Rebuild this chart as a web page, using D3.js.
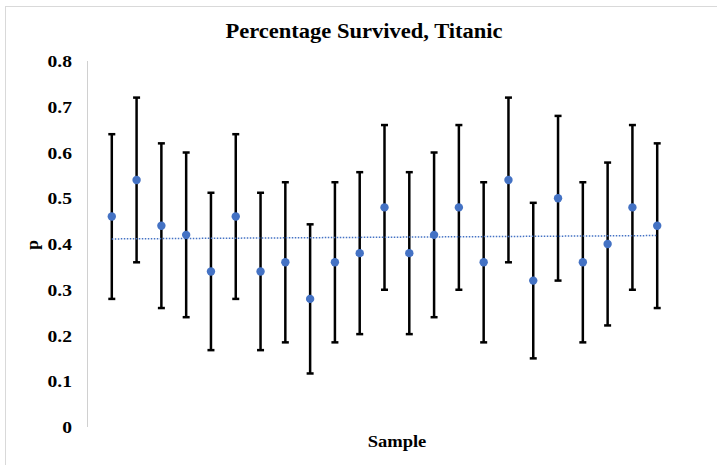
<!DOCTYPE html>
<html><head><meta charset="utf-8">
<script src="https://cdn.jsdelivr.net/npm/d3@7"></script>
<style>body{margin:0;background:#fff}svg{display:block}text{font-family:"Liberation Serif","Times New Roman",serif;font-weight:bold;fill:#000}</style>
</head><body>
<script>
const samples = d3.range(1, 24);
const proportions = [0.46,0.54,0.44,0.42,0.34,0.46,0.34,0.36,0.28,0.36,0.38,0.48,0.38,0.42,0.48,0.36,0.54,0.32,0.50,0.36,0.40,0.48,0.44];
const margins = [0.18,0.18,0.18,0.18,0.172,0.18,0.172,0.175,0.163,0.175,0.177,0.18,0.177,0.18,0.18,0.175,0.18,0.17,0.18,0.175,0.178,0.18,0.18];
const yTicks = [0,0.1,0.2,0.3,0.4,0.5,0.6,0.7,0.8];

const W = 717, H = 465;
const svg = d3.select("body").append("svg").attr("width", W).attr("height", H);
svg.append("rect").attr("x",5.5).attr("y",6.5).attr("width",740).attr("height",480)
  .attr("fill","none").attr("stroke","#d9d9d9");

const x = d3.scaleLinear().domain([0,24]).range([87,682]);
const y = d3.scaleLinear().domain([0,0.8]).range([427,61]);

// y axis
svg.append("line").attr("x1",x(0)+0.5).attr("x2",x(0)+0.5).attr("y1",y(0.8)).attr("y2",y(0))
  .attr("stroke","#d0d0d0").attr("stroke-width",1);
svg.selectAll("text.tick").data(yTicks).enter().append("text").attr("class","tick")
  .attr("transform",d=>`translate(72,${y(d)}) scale(1.12,1)`).attr("dy","0.35em").attr("text-anchor","end")
  .style("font-size","17.5px").text(d=>d===0?"0":d3.format(".1f")(d));

// error bars
const data = samples.map((s,i)=>({s,p:proportions[i],e:margins[i]}));
const g = svg.append("g");
g.selectAll("line.eb").data(data).enter().append("line")
  .attr("x1",d=>x(d.s)).attr("x2",d=>x(d.s)).attr("y1",d=>y(d.p-d.e)).attr("y2",d=>y(d.p+d.e))
  .attr("stroke","#000").attr("stroke-width",2.5);
["top","bot"].forEach(k=>{
  g.selectAll("line.cap"+k).data(data).enter().append("line")
    .attr("x1",d=>x(d.s)-3.5).attr("x2",d=>x(d.s)+3.5)
    .attr("y1",d=>y(k==="top"?d.p+d.e:d.p-d.e)).attr("y2",d=>y(k==="top"?d.p+d.e:d.p-d.e))
    .attr("stroke","#000").attr("stroke-width",2.5);
});

// trendline (least squares)
const mx = d3.mean(samples), my = d3.mean(proportions);
const slope = d3.sum(samples.map((s,i)=>(s-mx)*(proportions[i]-my))) / d3.sum(samples.map(s=>(s-mx)**2));
const icpt = my - slope*mx;
const x0 = samples[0], x1 = samples[samples.length-1];
svg.append("line").attr("x1",x(x0)).attr("x2",x(x1))
  .attr("y1",y(icpt+slope*x0)).attr("y2",y(icpt+slope*x1))
  .attr("stroke","#4472c4").attr("stroke-width",1.5).attr("stroke-dasharray","1.5,1.5");

// points
svg.selectAll("circle").data(data).enter().append("circle")
  .attr("cx",d=>x(d.s)).attr("cy",d=>y(d.p)).attr("r",4.2).attr("fill","#4472c4");

// titles
svg.append("text").attr("transform","translate(364,38) scale(1.1,1)").attr("text-anchor","middle")
  .style("font-size","20.5px").text("Percentage Survived, Titanic");
svg.append("text").attr("transform","translate(397,447) scale(1.06,1)").attr("text-anchor","middle")
  .style("font-size","17.5px").text("Sample");
svg.append("text").attr("transform","translate(38,245) rotate(-90)").attr("text-anchor","middle")
  .style("font-size","17.5px").text("p");
</script>
</body></html>
